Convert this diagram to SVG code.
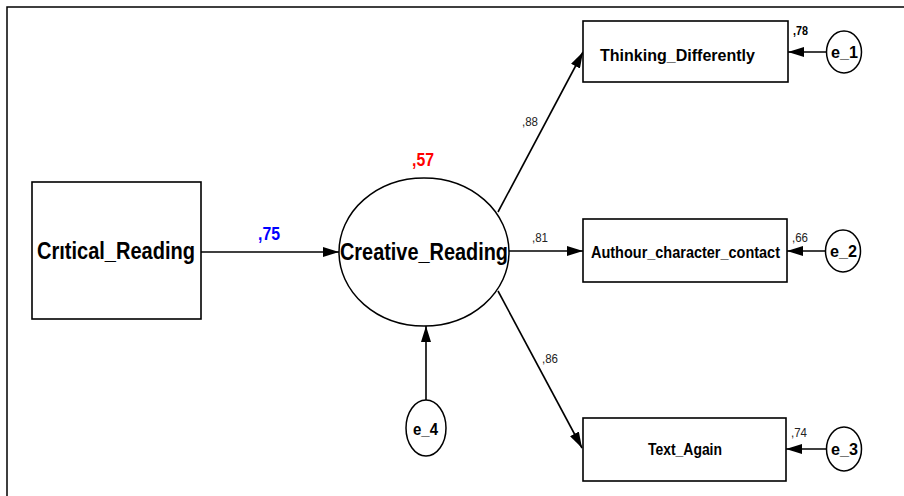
<svg xmlns="http://www.w3.org/2000/svg" width="904" height="496" viewBox="0 0 904 496">
<style>
.box{fill:#fff;stroke:#000;stroke-width:1.6}
.lat{fill:#fff;stroke:#000;stroke-width:1.5}
.conn line{stroke:#000;stroke-width:1.6;fill:none}
text{font-family:"Liberation Sans",Arial,sans-serif;fill:#000}
.big{font-size:20px;font-weight:bold}
.mid{font-size:16px;font-weight:bold}
.err{font-size:17px;font-weight:bold}
.sm{font-size:12px;fill:#222}
</style>
<defs>
<marker id="ah" viewBox="0 0 16 10" refX="16" refY="5" markerWidth="16" markerHeight="10" markerUnits="userSpaceOnUse" orient="auto">
<path d="M0,0 L16,5 L0,10 Z" fill="#000"/>
</marker>
</defs>
<rect x="0" y="0" width="904" height="496" fill="#fff"/>
<path d="M7,496 V7 H904" fill="none" stroke="#000" stroke-width="1.5"/>

<g class="conn">
<line x1="201" y1="252" x2="339" y2="252" marker-end="url(#ah)"/>
<line x1="498" y1="212" x2="583" y2="52" marker-end="url(#ah)"/>
<line x1="509" y1="251" x2="583" y2="251" marker-end="url(#ah)"/>
<line x1="498" y1="291" x2="582" y2="448" marker-end="url(#ah)"/>
<line x1="426" y1="400" x2="426" y2="326" marker-end="url(#ah)"/>
<line x1="826" y1="52" x2="788" y2="52" marker-end="url(#ah)"/>
<line x1="826" y1="251" x2="787" y2="251" marker-end="url(#ah)"/>
<line x1="826" y1="449" x2="786" y2="449" marker-end="url(#ah)"/>
</g>

<g id="critical_reading">
<rect class="box" x="32" y="182" width="169" height="137"/>
<text class="big" transform="translate(37,259) scale(1,1.2)" x="0" y="0" textLength="158" lengthAdjust="spacingAndGlyphs">Crıtical_Reading</text>
</g>

<g id="creative_reading">
<ellipse class="lat" cx="424" cy="252" rx="85" ry="74"/>
<text class="big" transform="translate(340,260) scale(1,1.2)" x="0" y="0" textLength="168" lengthAdjust="spacingAndGlyphs">Creative_Reading</text>
<text x="412" y="166" font-size="19" font-weight="bold" style="fill:#f00" textLength="22" lengthAdjust="spacingAndGlyphs">,57</text>
</g>

<g id="thinking_differently">
<rect class="box" x="583" y="21" width="205" height="61"/>
<text class="mid" x="600" y="61" textLength="155" lengthAdjust="spacingAndGlyphs">Thinking_Differently</text>
<text x="793" y="35" font-size="13" font-weight="bold" style="fill:#000" textLength="15" lengthAdjust="spacingAndGlyphs">,78</text>
</g>

<g id="authour_character_contact">
<rect class="box" x="583" y="219" width="204" height="63"/>
<text class="mid" x="591" y="258" textLength="189" lengthAdjust="spacingAndGlyphs">Authour_character_contact</text>
<text class="sm" x="792" y="242" textLength="16" lengthAdjust="spacingAndGlyphs">,66</text>
</g>

<g id="text_again">
<rect class="box" x="583" y="418" width="203" height="63"/>
<text class="mid" x="648" y="455" textLength="74" lengthAdjust="spacingAndGlyphs">Text_Again</text>
<text class="sm" x="791" y="437" textLength="16" lengthAdjust="spacingAndGlyphs">,74</text>
</g>

<g id="e_1">
<ellipse class="lat" cx="844" cy="52" rx="17.5" ry="21"/>
<text class="err" x="831" y="58" textLength="27" lengthAdjust="spacingAndGlyphs">e_1</text>
</g>

<g id="e_2">
<ellipse class="lat" cx="843" cy="251" rx="17.5" ry="21"/>
<text class="err" x="830" y="257" textLength="27" lengthAdjust="spacingAndGlyphs">e_2</text>
</g>

<g id="e_3">
<ellipse class="lat" cx="844" cy="449" rx="17.5" ry="22"/>
<text class="err" x="831" y="455" textLength="27" lengthAdjust="spacingAndGlyphs">e_3</text>
</g>

<g id="e_4">
<ellipse class="lat" cx="426" cy="428" rx="20" ry="28"/>
<text class="err" x="413" y="435" textLength="25" lengthAdjust="spacingAndGlyphs">e_4</text>
</g>

<g id="labels">
<text x="258" y="240" font-size="19" font-weight="bold" style="fill:#00f" textLength="22" lengthAdjust="spacingAndGlyphs">,75</text>
<text class="sm" x="522" y="126" textLength="16" lengthAdjust="spacingAndGlyphs">,88</text>
<text class="sm" x="532" y="242" textLength="16" lengthAdjust="spacingAndGlyphs">,81</text>
<text class="sm" x="542" y="363" textLength="16" lengthAdjust="spacingAndGlyphs">,86</text>
</g>
</svg>
